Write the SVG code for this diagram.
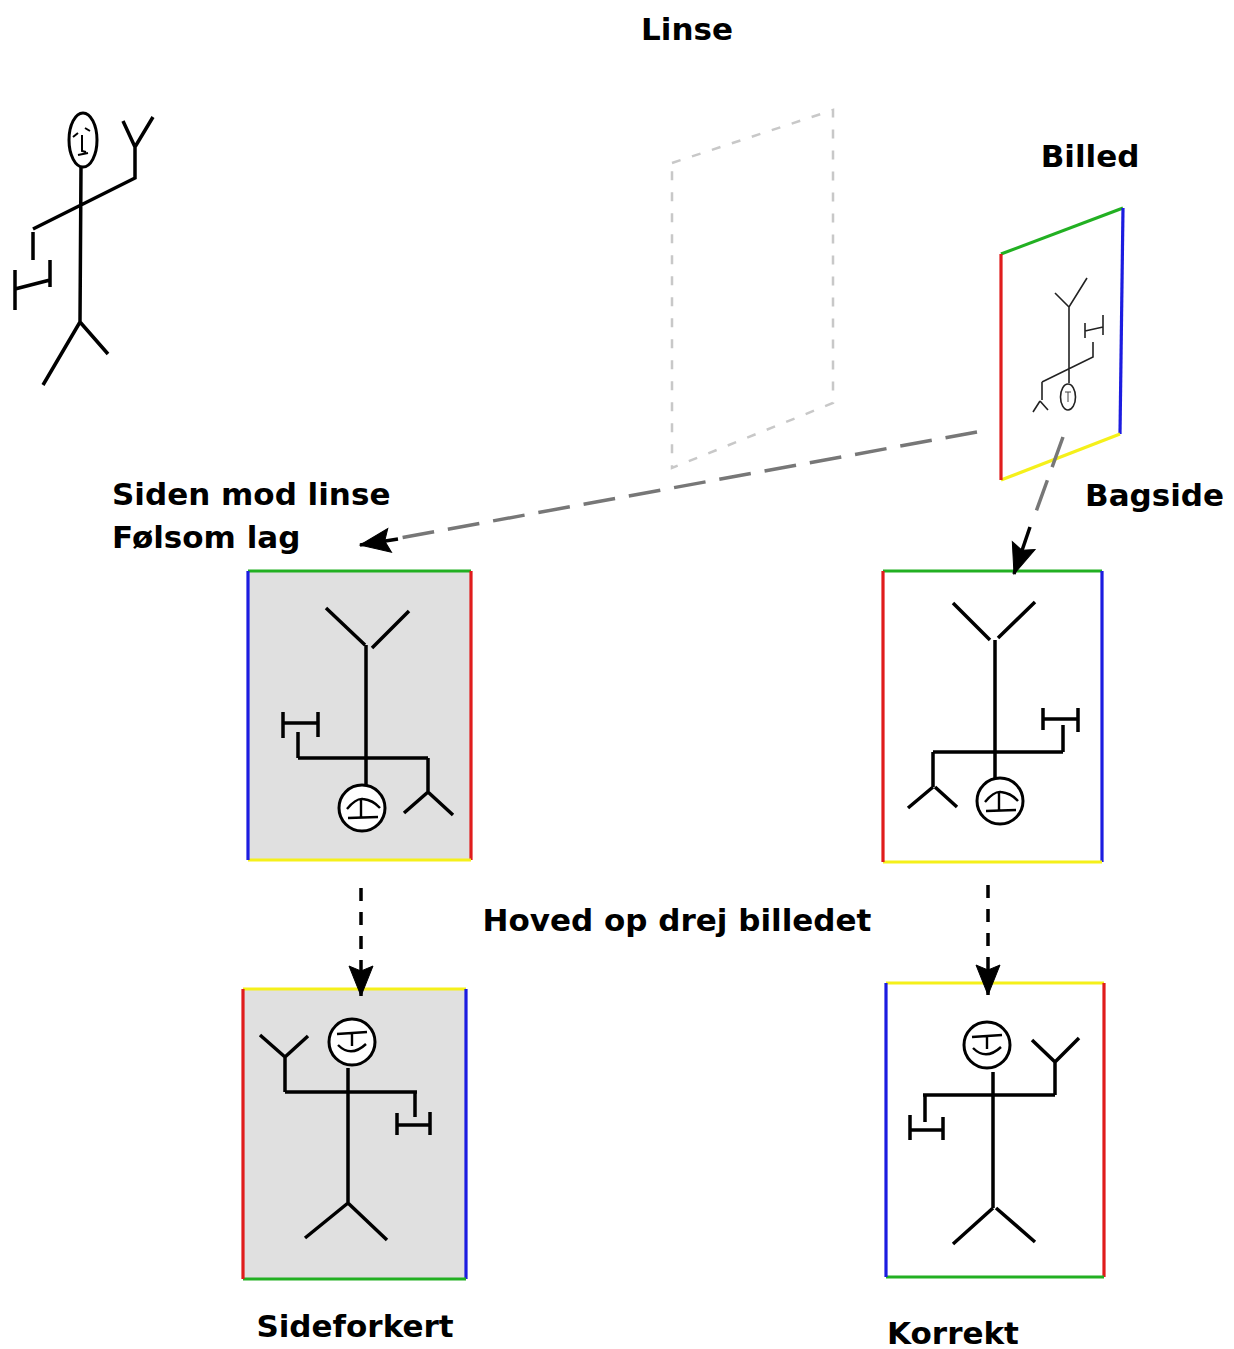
<svg xmlns="http://www.w3.org/2000/svg" width="1234" height="1349" viewBox="0 0 1234 1349">
  <style>
    .lbl { font-family: "DejaVu Sans", Verdana, sans-serif; font-weight: bold; font-size: 31px; fill: #000; }
    .fig { fill: none; stroke: #000; stroke-width: 3.5; stroke-linecap: butt; stroke-linejoin: miter; }
    .figs { fill: none; stroke: #222; stroke-width: 1.6; }
    .face { fill: none; stroke: #000; stroke-width: 2.4; }
    .head { fill: #fff; stroke: #000; stroke-width: 3; }
    .edge { stroke-width: 3.2; fill: none; }
    .g { stroke: #22b022; } .r { stroke: #e01c1c; } .b { stroke: #1c1ce0; } .y { stroke: #f5f01a; }
    .lens { fill: none; stroke: #c8c8c8; stroke-width: 2.5; stroke-dasharray: 9 12; }
    .grey { fill: none; stroke: #777; stroke-width: 3.5; stroke-dasharray: 32 14; }
    .blk { fill: none; stroke: #000; stroke-width: 3.5; }
    .blkd { fill: none; stroke: #000; stroke-width: 3.5; stroke-dasharray: 13 11; }
  </style>
  <defs>
    <marker id="head" markerUnits="userSpaceOnUse" markerWidth="36" markerHeight="32" refX="0" refY="0" viewBox="-32 -16 34 32" orient="auto">
      <path d="M0,0 L-30,-12 L-25,0 L-30,12 Z" fill="#000" stroke="#000" stroke-width="1"/>
    </marker>
  </defs>

  <rect width="1234" height="1349" fill="#fff"/>

  <!-- labels -->
  <g id="label-linse"><text class="lbl" x="687" y="40" text-anchor="middle">Linse</text></g>
  <g id="label-billed"><text class="lbl" x="1090" y="167" text-anchor="middle">Billed</text></g>
  <g id="label-siden"><text class="lbl" x="112" y="505">Siden mod linse</text><text class="lbl" x="112" y="548">Følsom lag</text></g>
  <g id="label-bagside"><text class="lbl" x="1085" y="506">Bagside</text></g>
  <g id="label-hoved"><text class="lbl" x="677" y="931" text-anchor="middle">Hoved op drej billedet</text></g>
  <g id="label-sideforkert"><text class="lbl" x="355" y="1337" text-anchor="middle">Sideforkert</text></g>
  <g id="label-korrekt"><text class="lbl" x="953" y="1344" text-anchor="middle">Korrekt</text></g>

  <!-- the person in front of the lens -->
  <g id="subject">
    <ellipse cx="83" cy="140" rx="14" ry="27" fill="#fff" stroke="#000" stroke-width="3"/>
    <path d="M73,137 L78,133 M85,128 L90,131 M82,135 L82,151 L86,152 M78,155 L88,153" fill="none" stroke="#000" stroke-width="2"/>
    <path class="fig" d="M81,167 L80,322 M33,229 L135,178 L135,147 M123,121 L135,147 L153,117 M33,232 L33,260 M15,289 L50,280 M15,270 L15,310 M50,260 L50,287 M80,322 L43,385 M80,322 L108,354"/>
  </g>

  <!-- lens plane -->
  <g id="lens">
    <path class="lens" d="M672,163 L833,110 L833,403 L672,468 Z"/>
  </g>

  <!-- projected image behind the lens -->
  <g id="image">
    <path class="edge g" d="M1001,254 L1123,208"/>
    <path class="edge b" d="M1123,208 L1120,434"/>
    <path class="edge y" d="M1120,434 L1001,480"/>
    <path class="edge r" d="M1001,480 L1001,254"/>
    <path class="figs" d="M1055,293 L1069,307 L1087,278 M1069,307 L1069,383 M1042,382 L1093,357 L1093,342 M1085,331 L1103,327 M1085,323 L1085,338 M1103,315 L1103,335 M1042,382 L1042,400 M1040,401 L1033,412 M1040,401 L1048,410"/>
    <ellipse cx="1068" cy="397" rx="7.5" ry="13" fill="#fff" stroke="#222" stroke-width="1.6"/>
    <path d="M1065,392 L1071,392 M1068,392 L1068,402" stroke="#444" stroke-width="1" fill="none"/>
  </g>

  <!-- frame: side facing the lens -->
  <g id="frame-sensitive">
    <rect x="248" y="571" width="223" height="289" fill="#e0e0e0"/>
    <path class="edge g" d="M248,571 L471,571"/>
    <path class="edge r" d="M471,571 L471,860"/>
    <path class="edge y" d="M471,860 L248,860"/>
    <path class="edge b" d="M248,860 L248,571"/>
    <path class="fig" d="M326,608 L365,645 M409,611 L372,648 M366,645 L366,786 M298,758 L428,758 M298,758 L298,732 M283,723 L318,723 M283,712 L283,738 M318,712 L318,737 M428,758 L428,792 M428,792 L404,813 M428,792 L453,815"/>
    <circle class="head" cx="362" cy="808" r="23"/>
    <path class="face" d="M347,809 Q356,798 363,799 Q373,800 380,808 M361,799 L361,818 M348,818 L378,817"/>
  </g>

  <!-- frame: back side -->
  <g id="frame-back">
    <rect x="883" y="571" width="219" height="291" fill="#fff"/>
    <path class="edge g" d="M883,571 L1102,571"/>
    <path class="edge b" d="M1102,571 L1102,862"/>
    <path class="edge y" d="M1102,862 L883,862"/>
    <path class="edge r" d="M883,862 L883,571"/>
    <path class="fig" d="M953,603 L990,640 M1035,602 L998,638 M995,640 L995,778 M933,752 L1063,752 M1063,752 L1063,725 M1043,719 L1078,719 M1043,708 L1043,730 M1078,708 L1078,732 M933,752 L933,787 M933,787 L908,808 M935,787 L957,807"/>
    <circle class="head" cx="1000" cy="801" r="23"/>
    <path class="face" d="M985,802 Q994,791 1001,792 Q1011,793 1018,801 M999,792 L999,811 M986,811 L1016,810"/>
  </g>

  <!-- frame: mirrored result -->
  <g id="frame-mirrored">
    <rect x="243" y="989" width="223" height="290" fill="#e0e0e0"/>
    <path class="edge y" d="M243,989 L466,989"/>
    <path class="edge b" d="M466,989 L466,1279"/>
    <path class="edge g" d="M466,1279 L243,1279"/>
    <path class="edge r" d="M243,1279 L243,989"/>
    <path class="fig" d="M348,1068 L348,1203 M348,1203 L305,1238 M348,1203 L387,1240 M285,1092 L417,1092 M285,1092 L285,1057 M285,1057 L260,1035 M285,1057 L308,1036 M415,1092 L415,1117 M397,1125 L430,1125 M397,1113 L397,1135 M430,1112 L430,1135"/>
    <circle class="head" cx="352" cy="1042" r="23"/>
    <path class="face" d="M337,1034 L367,1032 M352,1034 L352,1046 M338,1045 Q351,1058 366,1044"/>
  </g>

  <!-- frame: correct result -->
  <g id="frame-correct">
    <rect x="886" y="983" width="218" height="294" fill="#fff"/>
    <path class="edge y" d="M886,983 L1104,983"/>
    <path class="edge r" d="M1104,983 L1104,1277"/>
    <path class="edge g" d="M1104,1277 L886,1277"/>
    <path class="edge b" d="M886,1277 L886,983"/>
    <path class="fig" d="M993,1072 L993,1208 M993,1208 L953,1244 M996,1208 L1035,1242 M923,1095 L1055,1095 M1055,1095 L1055,1062 M1055,1062 L1032,1040 M1055,1062 L1079,1038 M925,1095 L925,1122 M910,1130 L943,1130 M910,1115 L910,1140 M943,1117 L943,1140"/>
    <circle class="head" cx="987" cy="1045" r="23"/>
    <path class="face" d="M972,1037 L1002,1035 M987,1037 L987,1049 M973,1048 Q986,1061 1001,1047"/>
  </g>

  <!-- connectors -->
  <g id="connectors">
    <path class="grey" d="M977,432 L400,538"/>
    <path class="blk" d="M398,539 L360,545" marker-end="url(#head)"/>
    <path class="grey" d="M1063,437 L1033,520"/>
    <path class="blk" d="M1030,527 L1014,574" marker-end="url(#head)"/>
    <path class="blkd" d="M361,888 L361,962"/>
    <path class="blk" d="M361,962 L361,996" marker-end="url(#head)"/>
    <path class="blkd" d="M988,885 L988,960"/>
    <path class="blk" d="M988,960 L988,995" marker-end="url(#head)"/>
  </g>
</svg>
